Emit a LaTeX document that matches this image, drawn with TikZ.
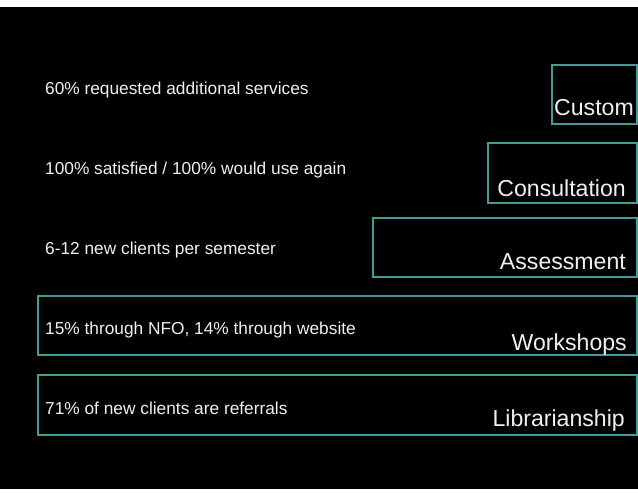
\documentclass[tikz,border=0pt]{standalone}
\usepackage{fontspec}
\setmainfont{Liberation Sans}
\definecolor{teal1}{RGB}{66,156,148}
\definecolor{txt}{RGB}{240,240,240}
\begin{document}
\begin{tikzpicture}[x=1pt,y=-1pt,
  box/.style={draw=teal1, line width=1.8pt, anchor=north west, inner sep=0pt},
  stat/.style={anchor=base west, text=txt, font=\fontsize{17.3}{20}\selectfont, inner sep=0pt},
  lab/.style={anchor=base east, text=txt, font=\fontsize{23.1}{27}\selectfont, inner sep=0pt}]
\useasboundingbox (0,0) rectangle (638,493);
\fill[white] (0,0) rectangle (638,493);
\fill[black] (0,7) rectangle (637.5,489);
% boxes
\node[box, minimum width=85pt, minimum height=59pt] (bcustom) at (551,64) {};
\node[box, minimum width=149pt, minimum height=60pt] (bconsult) at (487,142) {};
\node[box, minimum width=264pt, minimum height=59pt] (bassess) at (372,217) {};
\node[box, minimum width=599pt, minimum height=59pt] (bwork) at (37,295) {};
\node[box, minimum width=599pt, minimum height=60pt] (blib) at (37,374) {};
% labels
\node[lab] (lcustom) at (634,115) {Custom};
\node[lab] (lconsult) at (626,196) {Consultation};
\node[lab] (lassess) at (626,269) {Assessment};
\node[lab] (lwork) at (627,350) {Workshops};
\node[lab] (llib) at (625,426) {Librarianship};
% statements
\node[stat] (s1) at (45,94) {60\% requested additional services};
\node[stat] (s2) at (45,174) {100\% satisfied / 100\% would use again};
\node[stat] (s3) at (45,254) {6-12 new clients per semester};
\node[stat] (s4) at (45,334) {15\% through NFO, 14\% through website};
\node[stat] (s5) at (45,414) {71\% of new clients are referrals};
\end{tikzpicture}
\end{document}
